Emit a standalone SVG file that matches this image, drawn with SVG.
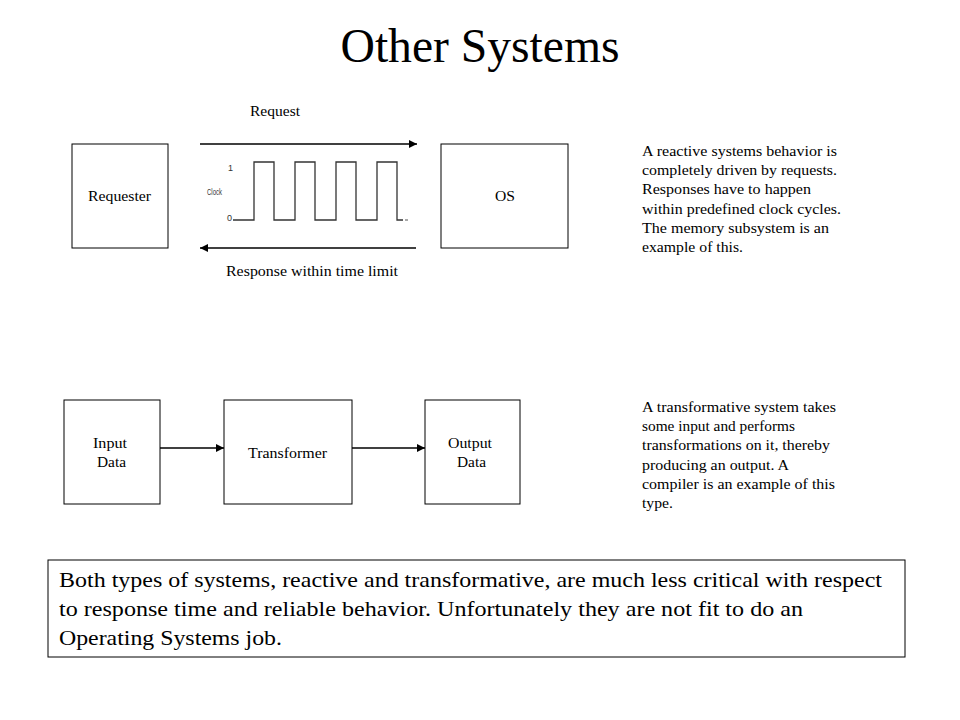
<svg xmlns="http://www.w3.org/2000/svg" width="960" height="720" viewBox="0 0 960 720">
<style>
text{font-family:"Liberation Serif","Times New Roman",serif;fill:#000}
.s{font-size:15px}
.b{font-size:22px}
.box{fill:#fff;stroke:#000;stroke-width:1}
.ln{stroke:#000;stroke-width:1.3;fill:none}
.c{font-family:"Liberation Sans",sans-serif;font-size:9px;fill:#333}
</style>
<defs>
<marker id="ah" viewBox="0 0 10 10" refX="10" refY="5" markerWidth="8" markerHeight="8" orient="auto" markerUnits="userSpaceOnUse"><path d="M0,0 L10,5 L0,10 z" fill="#000"/></marker>
</defs>
<rect width="960" height="720" fill="#fff"/>
<text x="480" y="62" font-size="48" text-anchor="middle" textLength="279" lengthAdjust="spacingAndGlyphs">Other Systems</text>

<g id="requester"><rect class="box" x="72" y="144" width="96" height="104"/><text class="s" x="88" y="201" textLength="63" lengthAdjust="spacingAndGlyphs">Requester</text></g>
<g id="os"><rect class="box" x="441" y="144" width="127" height="104"/><text class="s" x="495" y="201" textLength="20" lengthAdjust="spacingAndGlyphs">OS</text></g>

<g id="clock">
<text class="c" x="228" y="171">1</text>
<text class="c" x="207" y="195" textLength="15" lengthAdjust="spacingAndGlyphs">Clock</text>
<text class="c" x="227" y="221">0</text>
<path d="M233,220 H254 V162 H274 V220 H295 V162 H315 V220 H336 V162 H356 V220 H377 V162 H397 V220 H403" fill="none" stroke="#333" stroke-width="1.3"/>
<line x1="405" y1="220" x2="408" y2="220" stroke="#555" stroke-width="1"/>
</g>

<g id="connectors">
<line class="ln" x1="200" y1="144" x2="417" y2="144" marker-end="url(#ah)"/>
<line class="ln" x1="416" y1="248" x2="200" y2="248" marker-end="url(#ah)"/>
<line class="ln" x1="160" y1="448" x2="224" y2="448" marker-end="url(#ah)"/>
<line class="ln" x1="352" y1="448" x2="425" y2="448" marker-end="url(#ah)"/>
</g>
<text class="s" x="250" y="116" textLength="50" lengthAdjust="spacingAndGlyphs">Request</text>
<text class="s" x="226" y="276" textLength="172" lengthAdjust="spacingAndGlyphs">Response within time limit</text>

<g id="reactive-text">
<text class="s" x="642" y="156" textLength="195" lengthAdjust="spacingAndGlyphs">A reactive systems behavior is</text>
<text class="s" x="642" y="175" textLength="195" lengthAdjust="spacingAndGlyphs">completely driven by requests.</text>
<text class="s" x="642" y="194" textLength="169" lengthAdjust="spacingAndGlyphs">Responses have to happen</text>
<text class="s" x="642" y="214" textLength="199" lengthAdjust="spacingAndGlyphs">within predefined clock cycles.</text>
<text class="s" x="642" y="233" textLength="187" lengthAdjust="spacingAndGlyphs">The memory subsystem is an</text>
<text class="s" x="642" y="252" textLength="101" lengthAdjust="spacingAndGlyphs">example of this.</text>
</g>

<g id="input"><rect class="box" x="64" y="400" width="96" height="104"/><text class="s" x="93" y="448" textLength="34" lengthAdjust="spacingAndGlyphs">Input</text><text class="s" x="97" y="467" textLength="29" lengthAdjust="spacingAndGlyphs">Data</text></g>
<g id="transformer"><rect class="box" x="224" y="400" width="128" height="104"/><text class="s" x="248" y="458" textLength="79" lengthAdjust="spacingAndGlyphs">Transformer</text></g>
<g id="output"><rect class="box" x="425" y="400" width="95" height="104"/><text class="s" x="448" y="448" textLength="44" lengthAdjust="spacingAndGlyphs">Output</text><text class="s" x="457" y="467" textLength="29" lengthAdjust="spacingAndGlyphs">Data</text></g>

<g id="transform-text">
<text class="s" x="642" y="412" textLength="194" lengthAdjust="spacingAndGlyphs">A transformative system takes</text>
<text class="s" x="642" y="431" textLength="153" lengthAdjust="spacingAndGlyphs">some input and performs</text>
<text class="s" x="642" y="450" textLength="188" lengthAdjust="spacingAndGlyphs">transformations on it, thereby</text>
<text class="s" x="642" y="470" textLength="147" lengthAdjust="spacingAndGlyphs">producing an output.  A</text>
<text class="s" x="642" y="489" textLength="193" lengthAdjust="spacingAndGlyphs">compiler is an example of this</text>
<text class="s" x="642" y="508" textLength="31" lengthAdjust="spacingAndGlyphs">type.</text>
</g>

<g id="summary">
<rect class="box" x="48" y="560" width="857" height="97"/>
<text class="b" x="59" y="587" textLength="823" lengthAdjust="spacingAndGlyphs">Both types of systems, reactive and transformative, are much less critical with respect</text>
<text class="b" x="59" y="616" textLength="744" lengthAdjust="spacingAndGlyphs">to response time and reliable behavior. Unfortunately they are not fit to do an</text>
<text class="b" x="59" y="645" textLength="223" lengthAdjust="spacingAndGlyphs">Operating Systems job.</text>
</g>
</svg>
